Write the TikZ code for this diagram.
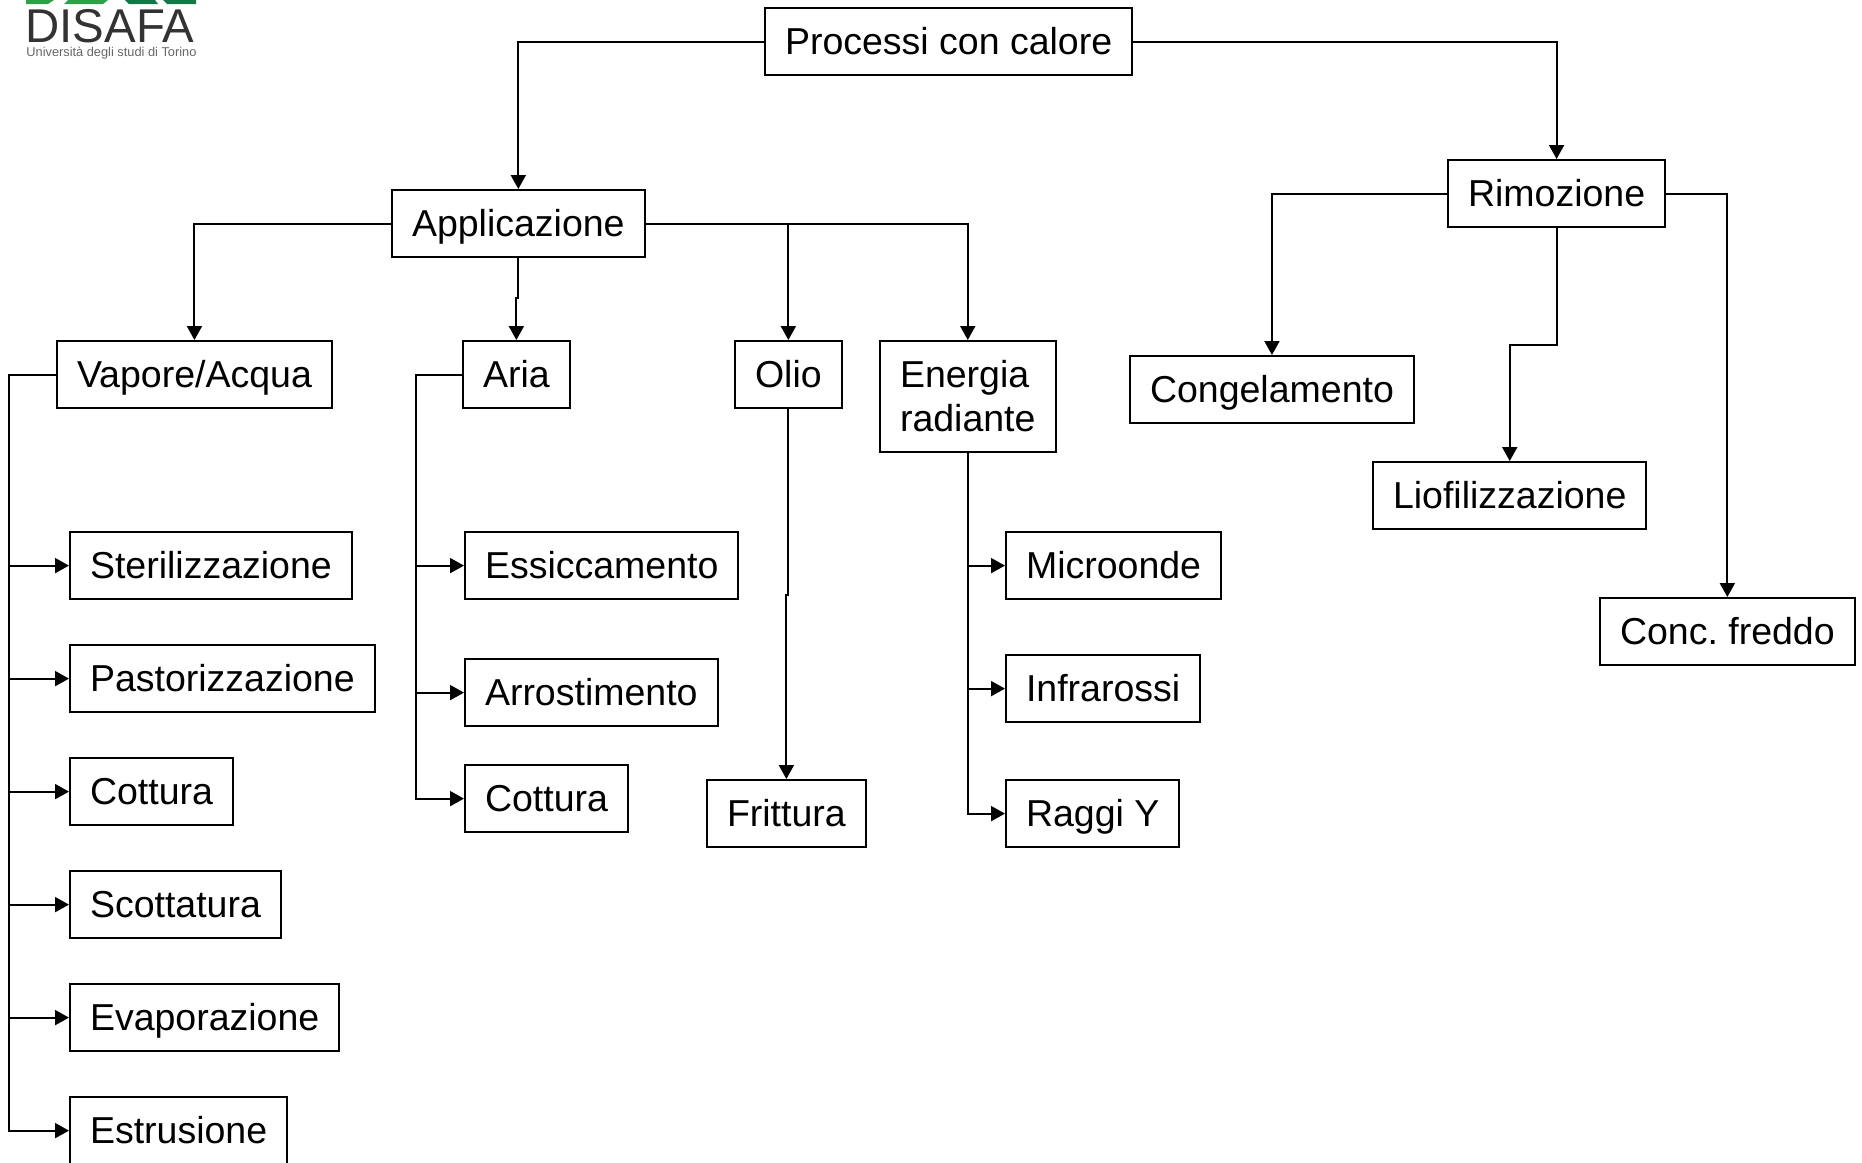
\documentclass[tikz,border=0pt]{standalone}
\usepackage{fontspec}
\setmainfont{Liberation Sans}
\usetikzlibrary{arrows.meta}
\definecolor{logogreen}{RGB}{46,160,70}
\definecolor{logodark}{RGB}{20,120,70}
\newcommand{\boxstrut}{\rule[-4.8pt]{0pt}{22pt}}
\tikzset{
  box/.style={draw,line width=1pt,anchor=north west,inner xsep=10pt,inner ysep=5.8pt,
    font=\fontsize{18.75}{22}\selectfont,align=left,
    execute at begin node=\boxstrut,execute at end node=\boxstrut},
  link/.style={line width=1pt},
  arr/.style={link,-{Triangle[length=7pt,width=7.5pt]}}
}
\begin{document}
\begin{tikzpicture}[x=0.5pt,y=-0.5pt]
\useasboundingbox (0,0) rectangle (1862,1162);

% logo
\fill[logogreen] (26,0) -- (54,0) -- (48,4) -- (26,4) -- cycle;
\fill[logogreen] (68,0) -- (108,0) -- (103,4) -- (64,4) -- cycle;
\fill[logodark] (125,0) -- (155,0) -- (158,4) -- (129,4) -- cycle;
\fill[logodark] (163,0) -- (196,0) -- (196,4) -- (167,4) -- cycle;
\node[anchor=west,inner sep=0pt,text=black!80,font=\fontsize{23.7}{26}\selectfont] (disafa) at (25,26) {DISAFA};
\node[anchor=west,inner sep=0pt,text=black!60,font=\fontsize{6.4}{7}\selectfont] (unito) at (26,53) {Università degli studi di Torino};

% top levels
\node[box] (calore) at (764,7) {Processi con calore};
\node[box] (appl) at (391,189) {Applicazione};
\node[box] (rimoz) at (1447,159) {Rimozione};

\node[box] (vapore) at (56,340) {Vapore/Acqua};
\node[box] (aria) at (462,340) {Aria};
\node[box] (olio) at (734,340) {Olio};
\node[box] (energia) at (879,340) {\boxstrut Energia\\radiante};

\node[box] (congel) at (1129,355) {Congelamento};
\node[box] (liof) at (1372,461) {Liofilizzazione};
\node[box] (conc) at (1599,597) {Conc.\ freddo};

% vapore/acqua
\node[box] (ster) at (69,531) {Sterilizzazione};
\node[box] (past) at (69,644) {Pastorizzazione};
\node[box] (cott) at (69,757) {Cottura};
\node[box] (scot) at (69,870) {Scottatura};
\node[box] (evap) at (69,983) {Evaporazione};
\node[box] (estr) at (69,1096) {Estrusione};

% aria
\node[box] (essi) at (464,531) {Essiccamento};
\node[box] (arro) at (464,658) {Arrostimento};
\node[box] (cotb) at (464,764) {Cottura};

\node[box] (fritt) at (706,779) {Frittura};

% energia radiante
\node[box] (micro) at (1005,531) {Microonde};
\node[box] (infra) at (1005,654) {Infrarossi};
\node[box] (raggi) at (1005,779) {Raggi Y};

\draw[arr] (calore.west) -| (appl.north);
\draw[arr] (calore.east) -| (rimoz.north);

\draw[arr] (appl.west) -| (vapore.north);
\draw[arr] (appl.south) -- ++(0,40) -| (aria.north);
\draw[arr] (appl.east) -| (olio.north);
\draw[arr] (appl.east) -| (energia.north);

\draw[arr] (rimoz.west) -| (congel.north);
\draw[arr] (rimoz.south) -- ++(0,117) -| (liof.north);
\draw[arr] (rimoz.east) -| (conc.north);

\foreach \n in {ster,past,cott,scot,evap,estr} \draw[arr] (vapore.west) -- ++(-47,0) |- (\n.west);
\foreach \n in {essi,arro,cotb} \draw[arr] (aria.west) -- ++(-46,0) |- (\n.west);
\draw[arr] (olio.south) -- ++(0,186) -| (fritt.north);
\foreach \n in {micro,infra,raggi} \draw[arr] (energia.south) |- (\n.west);
\end{tikzpicture}
\end{document}
